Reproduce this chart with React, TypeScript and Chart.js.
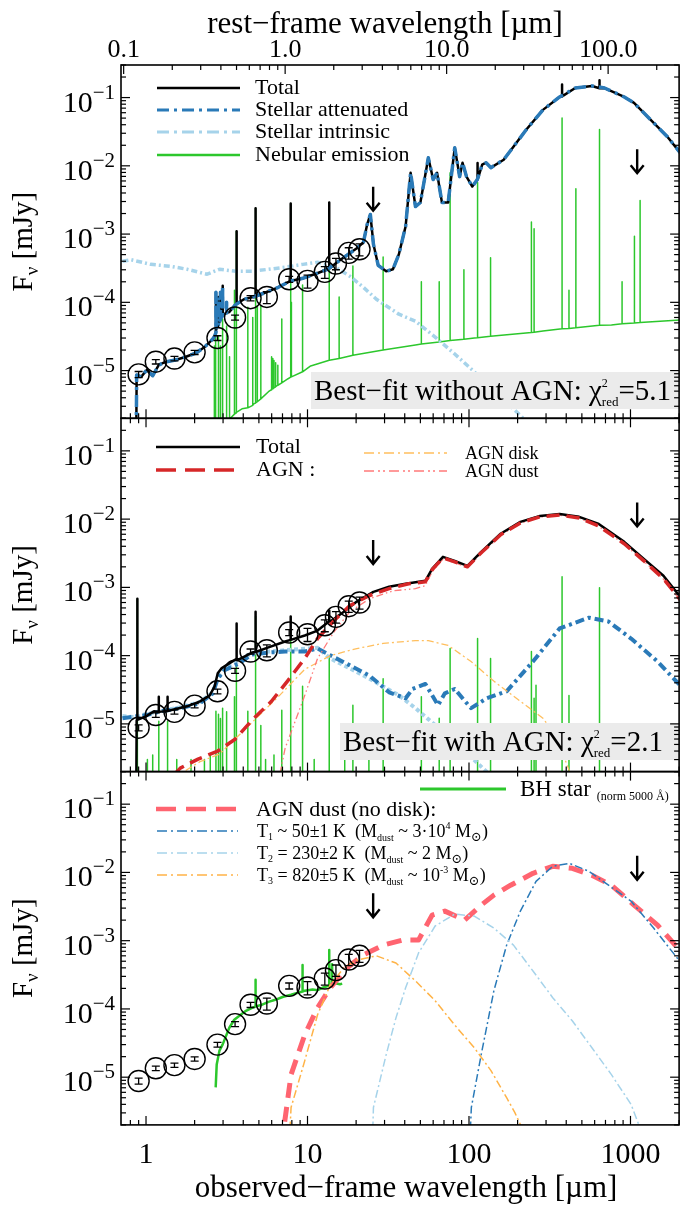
import React, { useEffect, useRef } from "react";
import { Chart, registerables } from "chart.js";

Chart.register(...registerables);

const FONT = '"Liberation Serif", "Times New Roman", "DejaVu Serif", serif';
const W = 691;
const H = 1205;

// ---------- axis ranges ----------
const X_MIN = 0.715;
const X_MAX = 2000;
const Y_MIN = 2e-6;
const Y_MAX = 0.3;
const ONE_PLUS_Z = 7.27;
const NEB_FLOOR = 1e-8;

// ---------- tick labels ----------
const obsTickValues = [1, 10, 100, 1000];
const obsTickLabels = ["1", "10", "100", "1000"];
const restTickValues = [0.1, 1, 10, 100];
const restTickLabels = ["0.1", "1.0", "10.0", "100.0"];
const yMajorExp = [-1, -2, -3, -4, -5];

// ---------- layout ----------
const PLOT_LEFT = 121;
const PLOT_RIGHT = 689;
const PANEL_TOPS = [65, 418.3, 771.6];
const PANEL_H = 353.3;

// ---------- colours ----------
const BLUE = "#2a7ab8";
const LIGHTBLUE = "#a6d3ea";
const GREEN = "#2cc72c";
const RED = "#d62728";
const DISK_ORANGE = "#ffbf5e";
const DUST_PINK = "#ff7a7a";
const SALMON = "#ff6470";
const T3_ORANGE = "#ffb347";

// ---------- photometry (observed frame, µm / mJy) ----------
const photWl = [0.9, 1.15, 1.5, 2.0, 2.77, 3.56, 4.44, 5.6, 7.7, 10.0, 12.8, 15.0, 18.0, 21.0];
const photFlux = [8.8e-6, 1.35e-5, 1.5e-5, 1.85e-5, 3.0e-5, 6.0e-5, 1.15e-4, 1.2e-4, 2.18e-4, 2.06e-4, 2.79e-4, 3.7e-4, 5.3e-4, 6.0e-4];
const photErr = [0.9e-6, 1.0e-6, 1.1e-6, 1.3e-6, 2.4e-6, 5e-6, 1.0e-5, 2.4e-5, 2.2e-5, 4.5e-5, 5.5e-5, 7e-5, 1.0e-4, 1.2e-4];
const ulWl = [25.5, 1100];
const ulFlux = [3.3e-3, 1.17e-2];

// ---------- panel 1: best fit without AGN ----------
const st1Wl = [0.865, 0.875, 0.933, 1.01, 1.1, 1.2, 1.32, 1.52, 1.75, 2.04, 2.31, 2.59, 2.66, 2.71, 2.71, 2.72, 2.81, 2.81, 2.82, 2.89, 2.89, 2.9, 2.98, 2.98, 2.99, 3.15, 3.155, 3.16, 3.28, 3.56, 4.04, 4.53, 5.35, 6.59, 7.8, 9.35, 11.5, 13.3, 15.25, 17.5, 20.2, 22.2, 23.4, 24.5, 25.6, 27.4, 30.7, 33.8, 36.8, 39.4, 40.5, 43.5, 46.6, 50.0, 56.0, 60.0, 63.4, 68.0, 74.3, 81.6, 87.5, 91.2, 96.5, 104.8, 112.6, 120.7, 127.6, 136.8, 164, 226, 287, 364, 455, 577, 691, 915, 1052, 1334, 1692, 2029];
const st1F = [1e-7, 8.65e-6, 8.1e-6, 1.02e-5, 8.4e-6, 1.21e-5, 1.34e-5, 1.43e-5, 1.58e-5, 1.81e-5, 2.22e-5, 2.9e-5, 3.2e-5, 3.6e-5, 1.4e-4, 4.0e-5, 4.6e-5, 1.2e-4, 4.8e-5, 5.6e-5, 1.4e-4, 5.8e-5, 6.4e-5, 1.75e-4, 6.5e-5, 7.0e-5, 1.0e-4, 7.0e-5, 7.2e-5, 9.1e-5, 1.11e-4, 1.19e-4, 1.36e-4, 1.66e-4, 2.04e-4, 2.25e-4, 2.67e-4, 3.05e-4, 3.86e-4, 4.88e-4, 6.2e-4, 7.6e-4, 1.38e-3, 1.94e-3, 7.1e-4, 3.49e-4, 2.85e-4, 3.05e-4, 5.05e-4, 9.9e-4, 1.29e-3, 7.9e-3, 2.53e-3, 2.9e-3, 1.31e-2, 6.3e-3, 7.9e-3, 2.9e-3, 2.9e-3, 1.84e-2, 6.95e-3, 1.11e-2, 6.95e-3, 4.97e-3, 6.3e-3, 1.04e-2, 1.11e-2, 9.4e-3, 1.23e-2, 3.37e-2, 6.6e-2, 0.102, 0.138, 0.148, 0.138, 0.102, 0.0836, 0.0472, 0.0267, 0.0156];
const spk1Wl = [3.64, 4.77, 7.87, 13.63, 113, 377, 643];
const spk1Peak = [1.1e-3, 2.4e-3, 2.8e-3, 2.9e-3, 1.1e-2, 0.155, 0.18];
const spk1Base = [9.5e-5, 1.2e-4, 2.05e-4, 3.1e-4, 6.3e-3, 0.104, 0.137];
const int1Wl = [0.715, 0.811, 1.07, 1.42, 1.8, 2.39, 2.85, 3.61, 4.53, 5.73, 7.27, 9.35, 11.54, 14.63, 18.3, 22.2, 26.7, 36.8, 46.6, 61.7, 81.6, 107.8, 142.6, 188.6, 235, 280];
const int1F = [3.99e-4, 4.2e-4, 3.6e-4, 3.37e-4, 3.05e-4, 2.58e-4, 3.05e-4, 2.85e-4, 2.85e-4, 3.05e-4, 3.27e-4, 3.6e-4, 3.86e-4, 3.37e-4, 2.41e-4, 1.66e-4, 1.11e-4, 6.7e-5, 5.3e-5, 3.1e-5, 1.75e-5, 9.6e-6, 5.2e-6, 2.75e-6, 1.66e-6, 1.0e-6];
const neb1ContWl = [3.15, 3.93, 4.65, 5.73, 7.58, 10.46, 18.3, 29.4, 46.6, 108, 287, 762, 2029];
const neb1ContF = [1.8e-6, 2.75e-6, 3.26e-6, 4.9e-6, 7.6e-6, 1.17e-5, 1.64e-5, 2.0e-5, 2.37e-5, 3.0e-5, 3.8e-5, 4.65e-5, 5.5e-5];
const neb1LineWl = [2.65, 2.68, 2.71, 2.81, 2.89, 2.98, 3.155, 3.29, 3.53, 3.61, 3.64, 4.27, 4.58, 4.77, 4.89, 5.14, 5.95, 6.02, 6.1, 6.2, 6.35, 6.55, 6.93, 7.87, 7.95, 9.32, 15.7, 13.63, 19.1, 29.4, 50.7, 65.4, 76.4, 93, 113, 136, 243.5, 253, 377, 416, 459, 643, 887, 1058, 1147];
const neb1LinePeak = [2.3e-5, 2.3e-5, 4.1e-5, 3.2e-5, 2.3e-5, 5.7e-5, 4.5e-5, 1.6e-5, 1.5e-4, 3.6e-4, 1.1e-3, 8.5e-5, 6e-5, 2.4e-3, 8.8e-5, 8.8e-5, 1.6e-5, 1.5e-5, 1.5e-5, 1.4e-5, 1.3e-5, 1.2e-5, 5.7e-5, 2.8e-3, 1e-4, 1.8e-4, 1.2e-4, 2.9e-3, 3.4e-4, 4.6e-4, 2e-4, 2e-4, 7.9e-3, 3e-4, 5.7e-3, 4.5e-4, 1.5e-3, 1.2e-3, 5.0e-2, 1.5e-4, 4.6e-3, 3.4e-2, 2e-4, 9.3e-4, 3.1e-3];
const neb1LineBase = [1e-6, 1e-6, 1e-6, 1e-6, 1e-6, 1e-6, 1e-6, 1.95e-6, 2.3e-6, 2.4e-6, 2.45e-6, 2.85e-6, 3.1e-6, 3.35e-6, 3.5e-6, 3.85e-6, 5.2e-6, 5.3e-6, 5.4e-6, 5.6e-6, 5.8e-6, 6.1e-6, 6.6e-6, 8.0e-6, 8.1e-6, 9.6e-6, 1.5e-5, 1.42e-5, 1.68e-5, 2.0e-5, 2.45e-5, 2.62e-5, 2.75e-5, 2.87e-5, 3.02e-5, 3.18e-5, 3.62e-5, 3.65e-5, 4.1e-5, 4.15e-5, 4.25e-5, 4.6e-5, 4.85e-5, 5.0e-5, 5.07e-5];

// ---------- panel 2: best fit with AGN ----------
const tot2Wl = [0.865, 0.875, 1.0, 1.12, 1.42, 1.8, 2.16, 2.48, 2.66, 2.78, 2.93, 3.28, 3.77, 4.53, 5.73, 7.27, 9.62, 11.54, 13.84, 16.8, 20.2, 25.6, 32.0, 40.5, 53.7, 59.1, 69, 81.6, 97.8, 119, 157, 208, 275, 364, 481, 636, 915, 1210, 1600, 2029];
const tot2F = [1e-7, 1.13e-5, 1.29e-5, 1.53e-5, 1.58e-5, 1.81e-5, 2.14e-5, 2.62e-5, 3.55e-5, 5.5e-5, 6.5e-5, 7.7e-5, 8.8e-5, 1.11e-4, 1.32e-4, 1.61e-4, 1.97e-4, 2.33e-4, 3.16e-4, 4.4e-4, 6.2e-4, 8.6e-4, 1.02e-3, 1.13e-3, 1.25e-3, 1.87e-3, 2.8e-3, 2.45e-3, 2.07e-3, 3.32e-3, 6.1e-3, 9.1e-3, 1.11e-2, 1.19e-2, 1.08e-2, 8.5e-3, 4.65e-3, 2.62e-3, 1.48e-3, 7.3e-4];
const spk2Wl = [0.884, 1.2, 1.36, 3.64, 4.77, 7.87, 13.63];
const spk2Peak = [6.8e-4, 2.5e-5, 2.5e-5, 2.95e-4, 4.4e-4, 3.73e-4, 4.6e-4];
const spk2Base = [1.15e-5, 1.5e-5, 1.55e-5, 9.0e-5, 1.13e-4, 1.7e-4, 3.2e-4];
const agn2Wl = [1.3, 1.52, 1.63, 2.1, 2.78, 3.56, 4.53, 5.98, 7.58, 9.62, 11.54, 14.63, 18.3, 24.2, 32.0, 42.3, 53.7, 59.1, 69, 81.6, 97.8, 119, 157, 208, 275, 364, 481, 636, 915, 1210, 1600, 2029];
const agn2F = [1e-6, 1.9e-6, 2.25e-6, 3.05e-6, 4.0e-6, 5.97e-6, 1.13e-5, 2.14e-5, 4.35e-5, 9.1e-5, 1.78e-4, 3.27e-4, 5.4e-4, 7.6e-4, 9.6e-4, 1.13e-3, 1.21e-3, 1.81e-3, 2.71e-3, 2.37e-3, 2.0e-3, 3.21e-3, 5.9e-3, 8.8e-3, 1.08e-2, 1.15e-2, 1.04e-2, 7.9e-3, 4.35e-3, 2.45e-3, 1.34e-3, 6.6e-4];
const disk2Wl = [1.32, 1.6, 2.16, 2.85, 4.53, 6.59, 9.62, 13.84, 20.2, 29.4, 46.6, 56, 74.3, 103, 143, 208, 287, 344, 440];
const disk2F = [1e-6, 1.8e-6, 2.8e-6, 3.6e-6, 1.05e-5, 2.5e-5, 6.3e-5, 1.0e-4, 1.27e-4, 1.51e-4, 1.66e-4, 1.66e-4, 1.41e-4, 8.2e-5, 4.2e-5, 2.14e-5, 1.21e-5, 6.8e-6, 1.5e-6];
const dust2Wl = [6.4, 7.27, 9.62, 11.54, 14.63, 18.3, 24.2, 33.8, 46.6, 53.7, 59.1, 69, 81.6, 97.8, 119, 157, 208, 275, 364, 481, 636, 915, 1210, 1600, 2029];
const dust2F = [1e-6, 4.4e-6, 2.62e-5, 9.1e-5, 2.25e-4, 4.4e-4, 6.8e-4, 8.9e-4, 9.6e-4, 1.06e-3, 1.7e-3, 2.6e-3, 2.3e-3, 1.95e-3, 3.1e-3, 5.8e-3, 8.7e-3, 1.07e-2, 1.14e-2, 1.03e-2, 7.8e-3, 4.3e-3, 2.4e-3, 1.32e-3, 6.5e-4];
const st2Wl = [0.715, 0.87, 1.0, 1.23, 1.63, 2.16, 2.59, 2.78, 3.06, 3.77, 4.53, 5.73, 7.27, 9.62, 11.54, 13.84, 18.3, 24.2, 32, 40.5, 44.7, 53.7, 64.3, 70.9, 81.6, 91.2, 103, 129, 171, 249, 364, 553, 731, 1008, 1471, 2029];
const st2F = [1.21e-5, 1.29e-5, 1.34e-5, 1.53e-5, 1.7e-5, 2.0e-5, 2.8e-5, 4.6e-5, 6.1e-5, 7.7e-5, 1.04e-4, 1.11e-4, 1.15e-4, 1.15e-4, 1.27e-4, 1.01e-4, 7.2e-5, 5.1e-5, 2.9e-5, 2.37e-5, 3.25e-5, 3.85e-5, 1.88e-5, 2.8e-5, 3.25e-5, 2.37e-5, 1.7e-5, 2.37e-5, 3.0e-5, 8.2e-5, 2.5e-4, 3.6e-4, 3.16e-4, 1.78e-4, 8.2e-5, 3.67e-5];
const int2Wl = [0.715, 0.87, 1.0, 1.63, 2.16, 2.59, 2.78, 3.06, 4.53, 7.27, 11.54, 13.84, 18.3, 24.2, 36.8, 46.6, 61.7, 81.6, 107.8, 133, 150];
const int2F = [1.3e-5, 1.25e-5, 1.4e-5, 1.75e-5, 2.1e-5, 2.9e-5, 4.8e-5, 6.3e-5, 1.1e-4, 1.2e-4, 1.3e-4, 9.1e-5, 6.5e-5, 4.6e-5, 2.62e-5, 1.7e-5, 9.6e-6, 5.4e-6, 2.95e-6, 1.84e-6, 1.2e-6];
const neb2Wl = [0.884, 1.02, 1.1, 1.2, 1.36, 1.55, 1.9, 2.3, 2.5, 2.71, 2.81, 2.89, 2.98, 3.155, 3.53, 3.61, 3.64, 4.27, 4.77, 5.14, 5.5, 6.2, 6.93, 7.87, 9.32, 11.0, 13.63, 17.0, 19.1, 24.0, 29.4, 50.7, 65.4, 76.4, 113, 136, 243.5, 253, 260, 377, 416, 643];
const neb2Peak = [6.8e-4, 3e-6, 3.5e-6, 1.09e-5, 1.09e-5, 3e-6, 3e-6, 3e-6, 3.5e-6, 1.53e-5, 1.38e-5, 1.2e-5, 1.7e-5, 1.5e-5, 2.5e-5, 4e-5, 9.1e-5, 1.53e-5, 3.73e-4, 9.5e-6, 3e-6, 3.5e-6, 1.58e-5, 1.66e-4, 3.55e-5, 3e-6, 9.7e-5, 4e-6, 1.88e-5, 5e-6, 4.6e-5, 2.5e-5, 1.21e-5, 1.27e-4, 1.78e-4, 9.1e-5, 1.15e-4, 2.37e-5, 3.67e-5, 1.43e-3, 2.6e-5, 9.9e-4];

// ---------- panel 3: AGN dust decomposition + BH star ----------
const bhWl = [2.7, 2.74, 2.85, 2.98, 3.1, 3.28, 3.52, 3.77, 4.16, 4.53, 5.2, 5.73, 6.32, 7.07, 7.91, 8.72, 9.62, 10.76, 11.54, 12.38, 13.84, 14.6, 15.9, 16.4];
const bhF = [7.1e-6, 1.53e-5, 2.45e-5, 3.0e-5, 3.8e-5, 5.3e-5, 6.95e-5, 7.9e-5, 9.4e-5, 1.04e-4, 1.15e-4, 1.27e-4, 1.36e-4, 1.51e-4, 1.61e-4, 1.73e-4, 1.85e-4, 1.92e-4, 1.88e-4, 2.04e-4, 2.25e-4, 2.4e-4, 2.3e-4, 2.35e-4];
const bhSpkWl = [4.77, 9.32, 13.63, 14.2];
const bhSpkPeak = [2.67e-4, 4.4e-4, 7.3e-4, 4.5e-4];
const bhSpkBase = [1.08e-4, 1.8e-4, 2.2e-4, 2.3e-4];
const dust3Wl = [6.9, 7.91, 9.62, 11.54, 13.84, 17.54, 22.24, 29.4, 38.9, 48.7, 59.1, 70.9, 93.9, 119, 142.6, 181, 249, 330, 436, 577, 762, 1052, 1471, 2029];
const dust3F = [1e-6, 1.09e-5, 4.2e-5, 1.04e-4, 2.04e-4, 3.99e-4, 6.2e-4, 8.6e-4, 1.02e-3, 1.02e-3, 2.37e-3, 2.71e-3, 2.0e-3, 3.32e-3, 4.65e-3, 6.5e-3, 9.7e-3, 1.23e-2, 1.15e-2, 9.1e-3, 6.5e-3, 3.32e-3, 1.69e-3, 7.1e-4];
const t1Wl = [101, 103.4, 119, 142.6, 171, 208, 260, 330, 418, 553, 731, 1008, 1391, 1943, 2100];
const t1F = [1e-6, 3.6e-6, 2.14e-5, 1.85e-4, 8.6e-4, 2.71e-3, 7.4e-3, 1.23e-2, 1.36e-2, 1.04e-2, 6.5e-3, 3.8e-3, 1.53e-3, 5.6e-4, 4.4e-4];
const t2Wl = [25.2, 25.6, 30.7, 35.3, 40.5, 48.7, 61.7, 81.6, 107.8, 142.6, 188.6, 249, 330, 436, 577, 762, 1008, 1180];
const t2F = [1e-6, 3.6e-6, 2.14e-5, 7.4e-5, 2.04e-4, 6.6e-4, 1.64e-3, 2.45e-3, 2.29e-3, 1.53e-3, 8.6e-4, 3.6e-4, 1.46e-4, 6.7e-5, 2.7e-5, 1.09e-5, 4.0e-6, 1.5e-6];
const t3Wl = [7.7, 7.91, 9.62, 11.54, 13.84, 16.8, 20.2, 26.7, 35.3, 46.6, 61.7, 81.6, 107.8, 136.8, 171, 192, 221];
const t3F = [1e-6, 3.6e-6, 1.75e-5, 8.2e-5, 2.25e-4, 3.99e-4, 5.2e-4, 6.0e-4, 4.7e-4, 2.58e-4, 1.32e-4, 5.8e-5, 2.7e-5, 1.25e-5, 5.0e-6, 3.05e-6, 1.5e-6];

// ---------- helpers ----------
function pts(xs: number[], ys: number[]) {
  return xs.map((x, i) => ({ x, y: ys[i] }));
}

function withSpikes(xs: number[], ys: number[], sx: number[], sPeak: number[], sBase: number[] | number) {
  const rows: number[][] = [];
  xs.forEach((x, i) => rows.push([x, 0, ys[i]]));
  sx.forEach((x, i) => {
    const b = Array.isArray(sBase) ? sBase[i] : sBase;
    rows.push([x, 1, b]);
    rows.push([x, 2, sPeak[i]]);
    rows.push([x, 3, b]);
  });
  rows.sort((a, b) => a[0] - b[0] || a[1] - b[1]);
  return rows.map((r) => ({ x: r[0], y: r[2] }));
}

function lineDs(data: any[], color: string, width: number, dash: number[] = []) {
  return {
    type: "line",
    data,
    borderColor: color,
    backgroundColor: color,
    borderWidth: width,
    borderDash: dash,
    pointRadius: 0,
    pointHoverRadius: 0,
    fill: false,
    tension: 0,
    clip: 0,
    borderCapStyle: "butt",
    borderJoinStyle: "round",
  };
}

function photDs() {
  return {
    type: "scatter",
    data: pts(photWl, photFlux),
    pointRadius: 10.5,
    pointHoverRadius: 10.5,
    pointBorderWidth: 1.4,
    borderColor: "#000",
    pointBorderColor: "#000",
    pointBackgroundColor: "rgba(0,0,0,0)",
    backgroundColor: "rgba(0,0,0,0)",
    showLine: false,
    clip: false,
  };
}

type Seg = { t: string; s: number; dy?: number };

function segWidth(ctx: CanvasRenderingContext2D, s: Seg) {
  ctx.font = `${s.s}px ${FONT}`;
  return ctx.measureText(s.t).width;
}

function drawSegs(ctx: CanvasRenderingContext2D, x: number, y: number, segs: (Seg | Seg[])[], align: string = "left", color = "#000") {
  ctx.save();
  ctx.fillStyle = color;
  ctx.textAlign = "left";
  ctx.textBaseline = "alphabetic";
  const widths = segs.map((s) => (Array.isArray(s) ? Math.max(...s.map((q) => segWidth(ctx, q))) : segWidth(ctx, s)));
  const total = widths.reduce((a, b) => a + b, 0);
  let cx = align === "left" ? x : align === "right" ? x - total : x - total / 2;
  segs.forEach((s, i) => {
    const arr = Array.isArray(s) ? s : [s];
    arr.forEach((q) => {
      ctx.font = `${q.s}px ${FONT}`;
      ctx.fillText(q.t, cx, y + (q.dy || 0));
    });
    cx += widths[i];
  });
  ctx.restore();
}

function legendLine(ctx: CanvasRenderingContext2D, x1: number, x2: number, y: number, color: string, width: number, dash: number[]) {
  ctx.save();
  ctx.strokeStyle = color;
  ctx.lineWidth = width;
  ctx.setLineDash(dash);
  ctx.beginPath();
  ctx.moveTo(x1, y);
  ctx.lineTo(x2, y);
  ctx.stroke();
  ctx.restore();
}

function minorValues(min: number, max: number) {
  const out: number[] = [];
  for (let e = -8; e <= 4; e++) {
    for (let k = 2; k <= 9; k++) {
      const v = k * Math.pow(10, e);
      if (v >= min * 0.999 && v <= max * 1.001) out.push(v);
    }
  }
  return out;
}

function drawPanelDecor(chart: any, panel: number) {
  const ctx: CanvasRenderingContext2D = chart.ctx;
  const xs = chart.scales.x;
  const ys = chart.scales.y;
  const a = chart.chartArea;
  ctx.save();
  ctx.setLineDash([]);

  // text boxes
  if (panel === 0) {
    ctx.fillStyle = "#ebebeb";
    ctx.fillRect(311, 372, 369, 37);
    drawSegs(ctx, 314, 400, [{ t: "Best−fit without AGN: χ", s: 29 }, [{ t: "2", s: 12, dy: -13 }, { t: "red", s: 13, dy: 6 }], { t: "=5.1", s: 29 }]);
  }
  if (panel === 1) {
    ctx.fillStyle = "#ebebeb";
    ctx.fillRect(340, 723, 340, 37);
    drawSegs(ctx, 343, 751, [{ t: "Best−fit with AGN: χ", s: 29 }, [{ t: "2", s: 12, dy: -13 }, { t: "red", s: 13, dy: 6 }], { t: "=2.1", s: 29 }]);
  }

  // error bars
  ctx.strokeStyle = "#000";
  ctx.lineWidth = 1.3;
  photWl.forEach((w, i) => {
    const px = xs.getPixelForValue(w);
    const yT = ys.getPixelForValue(photFlux[i] + photErr[i]);
    const yB = ys.getPixelForValue(photFlux[i] - photErr[i]);
    ctx.beginPath();
    ctx.moveTo(px, yT);
    ctx.lineTo(px, yB);
    ctx.moveTo(px - 4, yT);
    ctx.lineTo(px + 4, yT);
    ctx.moveTo(px - 4, yB);
    ctx.lineTo(px + 4, yB);
    ctx.stroke();
  });

  // upper-limit arrows
  ctx.lineWidth = 2.4;
  ulWl.forEach((w, i) => {
    const px = xs.getPixelForValue(w);
    const py = ys.getPixelForValue(ulFlux[i]);
    ctx.beginPath();
    ctx.moveTo(px, py - 12);
    ctx.lineTo(px, py + 11);
    ctx.moveTo(px - 6.5, py + 4);
    ctx.lineTo(px, py + 12);
    ctx.lineTo(px + 6.5, py + 4);
    ctx.stroke();
  });

  // frame
  ctx.strokeStyle = "#000";
  ctx.lineWidth = 1.6;
  ctx.strokeRect(a.left, a.top, a.right - a.left, a.bottom - a.top);

  // ticks
  ctx.lineWidth = 1.2;
  const MAJ = 9;
  const MIN = 5;
  const tick = (x1: number, y1: number, x2: number, y2: number) => {
    ctx.beginPath();
    ctx.moveTo(x1, y1);
    ctx.lineTo(x2, y2);
    ctx.stroke();
  };
  obsTickValues.forEach((v) => {
    const px = xs.getPixelForValue(v);
    tick(px, a.bottom, px, a.bottom - MAJ);
    if (panel !== 0) tick(px, a.top, px, a.top + MAJ);
  });
  minorValues(X_MIN, X_MAX).forEach((v) => {
    const px = xs.getPixelForValue(v);
    tick(px, a.bottom, px, a.bottom - MIN);
    if (panel !== 0) tick(px, a.top, px, a.top + MIN);
  });
  if (panel === 0) {
    restTickValues.forEach((v) => {
      const px = xs.getPixelForValue(v * ONE_PLUS_Z);
      tick(px, a.top, px, a.top + MAJ);
    });
    minorValues(X_MIN / ONE_PLUS_Z, X_MAX / ONE_PLUS_Z).forEach((v) => {
      const px = xs.getPixelForValue(v * ONE_PLUS_Z);
      tick(px, a.top, px, a.top + MIN);
    });
  }
  yMajorExp.forEach((e) => {
    const py = ys.getPixelForValue(Math.pow(10, e));
    tick(a.left, py, a.left + MAJ, py);
    tick(a.right, py, a.right - MAJ, py);
  });
  minorValues(Y_MIN, Y_MAX).forEach((v) => {
    const py = ys.getPixelForValue(v);
    tick(a.left, py, a.left + MIN, py);
    tick(a.right, py, a.right - MIN, py);
  });

  // y tick labels
  yMajorExp.forEach((e) => {
    const py = ys.getPixelForValue(Math.pow(10, e));
    drawSegs(ctx, 115, py + 14, [{ t: "10", s: 30 }, { t: "−" + String(-e), s: 21, dy: -13 }], "right");
  });

  // y title
  ctx.save();
  ctx.translate(32, (a.top + a.bottom) / 2);
  ctx.rotate(-Math.PI / 2);
  drawSegs(ctx, 0, 0, [{ t: "F", s: 29 }, { t: "ν", s: 19, dy: 6 }, { t: " [mJy]", s: 29 }], "center");
  ctx.restore();

  // top axis (rest frame)
  if (panel === 0) {
    restTickValues.forEach((v, i) => {
      const px = xs.getPixelForValue(v * ONE_PLUS_Z);
      drawSegs(ctx, px, 57, [{ t: restTickLabels[i], s: 26 }], "center");
    });
    drawSegs(ctx, 385, 33, [{ t: "rest−frame wavelength [µm]", s: 31 }], "center");
  }
  // bottom axis (observed frame)
  if (panel === 2) {
    obsTickValues.forEach((v, i) => {
      const px = xs.getPixelForValue(v);
      drawSegs(ctx, px, 1163, [{ t: obsTickLabels[i], s: 30 }], "center");
    });
    drawSegs(ctx, 406, 1197, [{ t: "observed−frame wavelength [µm]", s: 31 }], "center");
  }

  // legends
  if (panel === 0) {
    legendLine(ctx, 157, 240, 88, "#000", 2.5, []);
    drawSegs(ctx, 255, 94, [{ t: "Total", s: 22 }]);
    legendLine(ctx, 157, 240, 110, BLUE, 3, [12, 5, 3, 5]);
    drawSegs(ctx, 255, 116, [{ t: "Stellar attenuated", s: 22 }]);
    legendLine(ctx, 157, 240, 132, LIGHTBLUE, 3, [12, 5, 3, 5]);
    drawSegs(ctx, 255, 138, [{ t: "Stellar intrinsic", s: 22 }]);
    legendLine(ctx, 157, 240, 155, GREEN, 2.5, []);
    drawSegs(ctx, 255, 161, [{ t: "Nebular emission", s: 22 }]);
  }
  if (panel === 1) {
    legendLine(ctx, 156, 240, 447, "#000", 2.5, []);
    drawSegs(ctx, 256, 453, [{ t: "Total", s: 22 }]);
    legendLine(ctx, 156, 240, 470, RED, 3.5, [20, 9]);
    drawSegs(ctx, 256, 476, [{ t: "AGN :", s: 22 }]);
    legendLine(ctx, 364, 447, 453, DISK_ORANGE, 1.5, [10, 4, 2, 4]);
    drawSegs(ctx, 465, 459, [{ t: "AGN disk", s: 18 }]);
    legendLine(ctx, 364, 447, 471, DUST_PINK, 1.5, [10, 4, 2, 3, 2, 4]);
    drawSegs(ctx, 465, 477, [{ t: "AGN dust", s: 18 }]);
  }
  if (panel === 2) {
    legendLine(ctx, 420, 506, 789, GREEN, 3, []);
    drawSegs(ctx, 520, 796, [{ t: "BH star ", s: 23 }, { t: "(norm 5000 Å)", s: 12, dy: 4 }]);
    legendLine(ctx, 156, 240, 809, SALMON, 4.5, [20, 10]);
    drawSegs(ctx, 256, 816, [{ t: "AGN dust (no disk):", s: 22 }]);
    legendLine(ctx, 157, 238, 831, BLUE, 1.6, [10, 4, 2, 4]);
    drawSegs(ctx, 257, 837, [{ t: "T", s: 18 }, { t: "1", s: 10, dy: 3 }, { t: " ~ 50±1 K  (M", s: 18 }, { t: "dust", s: 10, dy: 4 }, { t: " ~ 3·10", s: 18 }, { t: "4", s: 10, dy: -8 }, { t: " M", s: 18 }, { t: "⊙", s: 13, dy: 4 }, { t: ")", s: 18 }]);
    legendLine(ctx, 157, 238, 853, LIGHTBLUE, 1.6, [10, 4, 2, 4]);
    drawSegs(ctx, 257, 859, [{ t: "T", s: 18 }, { t: "2", s: 10, dy: 3 }, { t: " = 230±2 K  (M", s: 18 }, { t: "dust", s: 10, dy: 4 }, { t: " ~ 2 M", s: 18 }, { t: "⊙", s: 13, dy: 4 }, { t: ")", s: 18 }]);
    legendLine(ctx, 157, 238, 875, T3_ORANGE, 1.6, [10, 4, 2, 4]);
    drawSegs(ctx, 257, 881, [{ t: "T", s: 18 }, { t: "3", s: 10, dy: 3 }, { t: " = 820±5 K  (M", s: 18 }, { t: "dust", s: 10, dy: 4 }, { t: " ~ 10", s: 18 }, { t: "-3", s: 10, dy: -8 }, { t: " M", s: 18 }, { t: "⊙", s: 13, dy: 4 }, { t: ")", s: 18 }]);
  }
  ctx.restore();
}

function datasetsFor(panel: number) {
  if (panel === 0) {
    return [
      photDs(),
      lineDs(pts(st1Wl, st1F), BLUE, 3.5, [12, 5, 3, 5]),
      lineDs(withSpikes(st1Wl, st1F, spk1Wl, spk1Peak, spk1Base), "#000", 2.5),
      lineDs(pts(int1Wl, int1F), LIGHTBLUE, 3.5, [6, 3, 2, 3]),
      lineDs(withSpikes(neb1ContWl, neb1ContF, neb1LineWl, neb1LinePeak, neb1LineBase), GREEN, 1.5),
    ];
  }
  if (panel === 1) {
    return [
      photDs(),
      lineDs(pts(agn2Wl, agn2F), RED, 3.5, [13, 7]),
      lineDs(withSpikes(tot2Wl, tot2F, spk2Wl, spk2Peak, spk2Base), "#000", 2.5),
      lineDs(pts(dust2Wl, dust2F), DUST_PINK, 1.3, [7, 3, 1.5, 3, 1.5, 3]),
      lineDs(pts(disk2Wl, disk2F), DISK_ORANGE, 1.3, [7, 3, 2, 3]),
      lineDs(pts(st2Wl, st2F), BLUE, 4, [9, 4, 3, 4]),
      lineDs(pts(int2Wl, int2F), LIGHTBLUE, 4, [4, 3]),
      lineDs(withSpikes([X_MIN, X_MAX], [NEB_FLOOR, NEB_FLOOR], neb2Wl, neb2Peak, NEB_FLOOR), GREEN, 1.5),
    ];
  }
  return [
    photDs(),
    lineDs(pts(t3Wl, t3F), T3_ORANGE, 1.5, [8, 3, 2, 3]),
    lineDs(pts(t2Wl, t2F), LIGHTBLUE, 1.5, [8, 3, 2, 3]),
    lineDs(pts(t1Wl, t1F), BLUE, 1.5, [8, 3, 2, 3]),
    lineDs(pts(dust3Wl, dust3F), SALMON, 5, [15, 9]),
    lineDs(withSpikes(bhWl, bhF, bhSpkWl, bhSpkPeak, bhSpkBase), GREEN, 2.5),
  ];
}

function buildConfig(panel: number): any {
  const top = PANEL_TOPS[panel];
  const bottom = top + PANEL_H;
  return {
    type: "line",
    data: { datasets: datasetsFor(panel) },
    options: {
      responsive: false,
      maintainAspectRatio: false,
      animation: false,
      devicePixelRatio: 1,
      events: [],
      layout: { padding: { left: PLOT_LEFT, right: W - PLOT_RIGHT, top, bottom: H - bottom } },
      plugins: { legend: { display: false }, tooltip: { enabled: false } },
      scales: {
        x: { type: "logarithmic", min: X_MIN, max: X_MAX, display: false },
        y: { type: "logarithmic", min: Y_MIN, max: Y_MAX, display: false },
      },
    },
    plugins: [
      {
        id: "decor" + panel,
        afterDatasetsDraw(chart: any) {
          drawPanelDecor(chart, panel);
        },
      },
    ],
  };
}

export default function App() {
  const r0 = useRef<HTMLCanvasElement>(null);
  const r1 = useRef<HTMLCanvasElement>(null);
  const r2 = useRef<HTMLCanvasElement>(null);
  useEffect(() => {
    const refs = [r0, r1, r2];
    const charts = refs.map((r, p) => new Chart(r.current as HTMLCanvasElement, buildConfig(p)));
    return () => charts.forEach((c) => c.destroy());
  }, []);
  const cs: React.CSSProperties = { position: "absolute", left: 0, top: 0, width: W, height: H };
  return (
    <div style={{ position: "absolute", left: 0, top: 0, width: W, height: H, background: "#fff" }}>
      <canvas ref={r0} width={W} height={H} style={cs} />
      <canvas ref={r1} width={W} height={H} style={cs} />
      <canvas ref={r2} width={W} height={H} style={cs} />
    </div>
  );
}
